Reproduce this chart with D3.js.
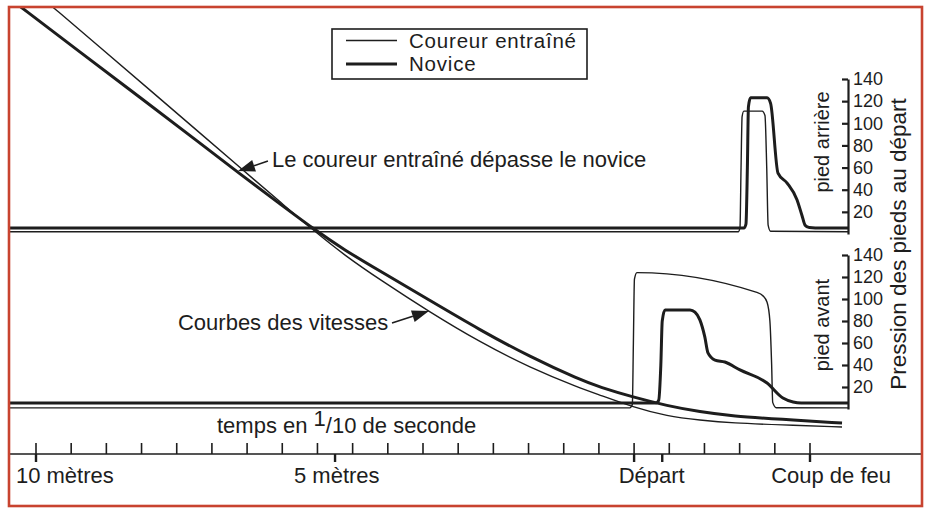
<!DOCTYPE html>
<html><head><meta charset="utf-8">
<script src="https://cdn.jsdelivr.net/npm/d3@7/dist/d3.min.js"></script>
<style>
body{margin:0;background:#fff;}
text{font-family:"Liberation Sans",Arial,sans-serif;fill:#1d1d1d;}
</style>
</head><body>
<svg id="chart" width="931" height="509"></svg>
<script>
// ---------- DATA ----------
// time axis in 1/10 s (tick index), distance marks
const timeTicks = d3.range(0, 23);
const distanceMarkTimes = [0, 8.5, 17, 17.8, 22];
const distanceLabels = ["10 mètres", "5 mètres", "Départ", "Coup de feu"];
const distanceLabelTimes = [0.82, 8.55, 17.5, 22.6];
const pressureTicks = [20, 40, 60, 80, 100, 120, 140];
const axisTime = 23.08;

// speed curves (relative units)
const speedTimeNovice = [-0.74,-0.43,1.25,2.96,4.66,5.80,6.94,7.87,8.78,9.78,11.20,12.62,14.04,15.46,16.03,16.97,17.94,18.87,19.81,21.15,22.91];
const speedNovice     = [101.9,100,89.6,79.1,68.6,61.4,54.5,48.85,43.8,39.0,32.2,25.4,19.2,13.9,12.2,9.9,7.9,6.5,5.5,4.8,3.9];
const speedTimeTrained = [0.23,0.48,1.82,3.24,4.66,5.80,6.94,7.87,8.78,9.78,11.20,12.62,14.04,15.46,16.03,16.97,17.94,18.87,19.81,21.15,22.91];
const speedTrained     = [101.6,100,90.7,80.8,70.9,62.9,55.0,48.5,42.6,37.0,29.5,22.6,16.7,12.0,10.4,7.6,5.5,4.6,3.9,3.5,3.0];

// rear foot pressure (pied arrière)
const rearTimeTrained = [-1,19.96,20.01,20.04,20.07,20.12,20.64,20.72,20.77,20.81,20.88,23.08];
const rearTrained     = [2,2,6,60,106,111,111,107,60,8,2.5,2];
const rearTimeNovice  = [-1,20.13,20.18,20.22,20.25,20.31,20.78,20.88,21.09,21.35,21.63,21.77,21.86,21.98,22.15,23.08];
const rearNovice      = [5.5,5.5,9,60,115,123,123,118,55,46,31,17,8,5.8,5.5,5.5];

// front foot pressure (pied avant)
const frontTimeTrained = [-1,16.88,16.95,16.98,17.01,17.08,20.49,20.66,20.78,20.86,20.91,20.94,21.04,23.08];
const frontTrained     = [1,1,4,60,118,124,106,103,97,80,40,6,1.2,1];
const frontTimeNovice  = [-1,17.62,17.70,17.76,17.80,17.88,18.59,18.73,18.87,19.01,19.10,19.30,19.58,20.01,20.78,21.23,21.52,21.75,23.08];
const frontNovice      = [5.5,5.5,8,40,80,90,90,88,81,65.5,51,44.5,42.7,35.5,23.6,10,6.4,5.5,5.5];

// annotations (points on curves)
const annotTexts = ["Le coureur entraîné dépasse le novice", "Courbes des vitesses"];
const annotTimes = [5.74, 11.17];
const annotSpeeds = [62.1, 29.8];

const legendLabels = ["Coureur entraîné", "Novice"];

// ---------- CHART ----------
const svg = d3.select("#chart");
const ink = "#1d1d1d";
const x = d3.scaleLinear().domain([0, 22]).range([36, 810]);
const ySpeed = d3.scaleLinear().domain([0, 100]).range([440, 7]);
const yRear = d3.scaleLinear().domain([0, 140]).range([234, 79]);
const yFront = d3.scaleLinear().domain([0, 140]).range([409, 255]);

svg.append("rect").attr("width", 931).attr("height", 509).attr("fill", "#fff");

svg.append("defs").append("clipPath").attr("id", "frameClip")
  .append("rect").attr("x", 10).attr("y", 8).attr("width", 911).attr("height", 497);

const plot = svg.append("g").attr("clip-path", "url(#frameClip)");

function drawSeries(ts, vs, yScale, width, curve) {
  const pts = ts.map((t, i) => [t, vs[i]]);
  plot.append("path")
    .datum(pts)
    .attr("fill", "none")
    .attr("stroke", ink)
    .attr("stroke-width", width)
    .attr("stroke-linejoin", "round")
    .attr("d", d3.line().x(d => x(d[0])).y(d => yScale(d[1])).curve(curve || d3.curveMonotoneX));
}

drawSeries(rearTimeTrained, rearTrained, yRear, 1.4);
drawSeries(rearTimeNovice, rearNovice, yRear, 3);
drawSeries(frontTimeTrained, frontTrained, yFront, 1.4);
drawSeries(frontTimeNovice, frontNovice, yFront, 3);
drawSeries(speedTimeTrained, speedTrained, ySpeed, 1.4, d3.curveBasis);
drawSeries(speedTimeNovice, speedNovice, ySpeed, 3, d3.curveBasis);

// pressure axes
function pressureAxis(scale) {
  const g = svg.append("g").attr("transform", `translate(${x(axisTime)},0)`)
    .call(d3.axisRight(scale).tickValues(pressureTicks).tickSizeInner(-6).tickSizeOuter(0).tickPadding(5).tickFormat(d3.format("d")));
  g.select(".domain").attr("stroke", ink).attr("stroke-width", 2.2);
  g.selectAll(".tick line").attr("stroke", ink).attr("stroke-width", 2.2);
  g.selectAll(".tick text").attr("font-size", 18).attr("font-family", "Liberation Sans, Arial, sans-serif").attr("fill", ink);
  g.attr("font-size", null).attr("font-family", null);
}
pressureAxis(yRear);
pressureAxis(yFront);

// time axis
const axisY = 454;
svg.append("line").attr("x1", 10).attr("x2", 921).attr("y1", axisY).attr("y2", axisY)
  .attr("stroke", ink).attr("stroke-width", 1.6);
svg.selectAll(".tt").data(timeTicks).join("line")
  .attr("x1", d => x(d)).attr("x2", d => x(d))
  .attr("y1", axisY - 11).attr("y2", axisY)
  .attr("stroke", ink).attr("stroke-width", 1.6);
svg.selectAll(".dm").data(distanceMarkTimes).join("line")
  .attr("x1", d => x(d)).attr("x2", d => x(d))
  .attr("y1", axisY).attr("y2", axisY + 8)
  .attr("stroke", ink).attr("stroke-width", 2.4);
svg.selectAll(".dl").data(distanceLabels).join("text")
  .attr("x", (d, i) => x(distanceLabelTimes[i])).attr("y", 483)
  .attr("text-anchor", "middle").attr("font-size", 22).text(d => d);

// axis title
const tt = svg.append("text").attr("x", 217).attr("y", 433).attr("font-size", 22);
tt.append("tspan").text("temps en ");
tt.append("tspan").attr("dy", -7).text("1");
tt.append("tspan").attr("dy", 7).text("/10 de seconde");

// rotated labels
function vtext(t, cx, cy, size) {
  svg.append("text").attr("transform", `translate(${cx},${cy}) rotate(-90)`)
    .attr("text-anchor", "middle").attr("font-size", size).text(t);
}
vtext("pied arrière", 829, 142, 20);
vtext("pied avant", 829, 325, 20);
vtext("Pression des pieds au départ", 906, 244, 22.5);

// legend
const lg = svg.append("g");
lg.append("rect").attr("x", 332).attr("y", 29).attr("width", 255).attr("height", 50)
  .attr("fill", "none").attr("stroke", ink).attr("stroke-width", 1.6);
const lw = [1.4, 3.2];
legendLabels.forEach((l, i) => {
  const cy = 40.5 + i * 23.5;
  lg.append("line").attr("x1", 346).attr("x2", 397).attr("y1", cy).attr("y2", cy)
    .attr("stroke", ink).attr("stroke-width", lw[i]);
  lg.append("text").attr("x", 409).attr("y", cy + 7.2).attr("font-size", 20.5)
    .attr("letter-spacing", 0.8).text(l);
});

// annotations with arrows
const tailOffsets = [[30, -10], [-37, 12]];
const textOffsets = [[34, -4], [-251, 19]];
annotTexts.forEach((txt, i) => {
  const tx = x(annotTimes[i]), ty = ySpeed(annotSpeeds[i]);
  const [dx, dy] = tailOffsets[i];
  const len = Math.hypot(dx, dy), ux = dx / len, uy = dy / len;
  const hl = 17, hw = 6;
  const bx = tx + ux * hl, by = ty + uy * hl;
  svg.append("line").attr("x1", bx).attr("y1", by).attr("x2", tx + dx).attr("y2", ty + dy)
    .attr("stroke", ink).attr("stroke-width", 1.6);
  svg.append("polygon")
    .attr("points", [[tx, ty], [bx - uy * hw, by + ux * hw], [bx + uy * hw, by - ux * hw]].map(p => p.join(",")).join(" "))
    .attr("fill", ink);
  svg.append("text").attr("x", tx + textOffsets[i][0]).attr("y", ty + textOffsets[i][1])
    .attr("font-size", 22).text(txt);
});

// frame
svg.append("rect").attr("x", 9).attr("y", 7).attr("width", 913).attr("height", 499)
  .attr("fill", "none").attr("stroke", "#c8432f").attr("stroke-width", 2.6);
</script>
</body></html>
